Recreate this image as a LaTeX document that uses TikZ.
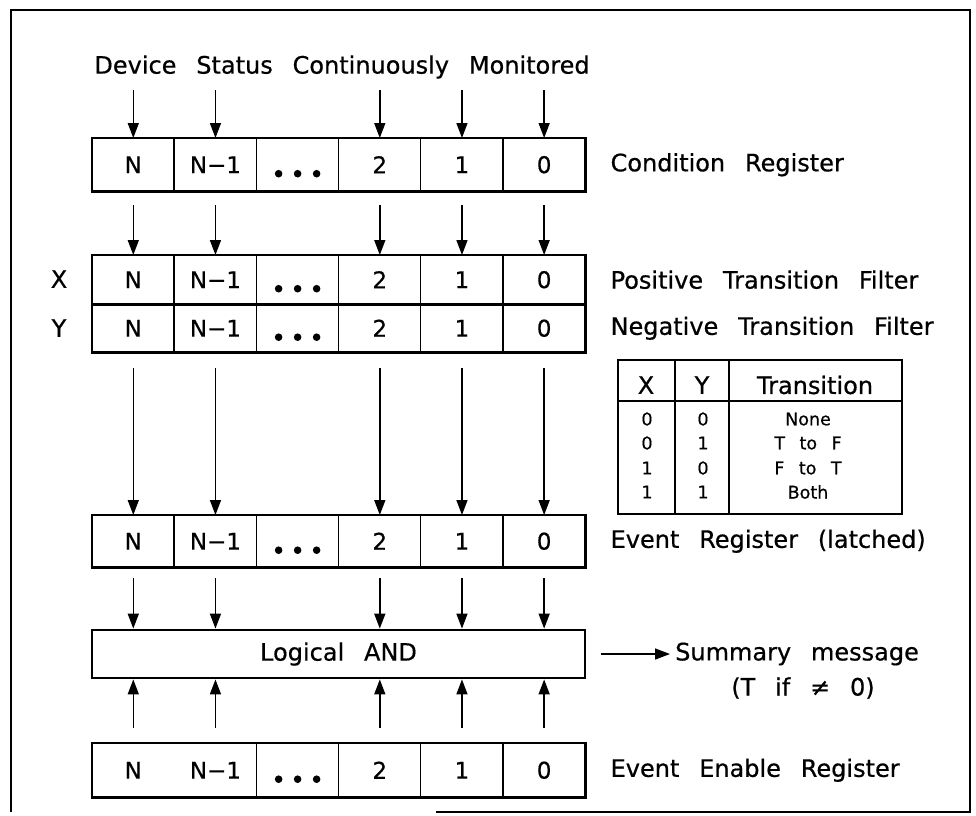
\documentclass[tikz,border=0pt]{standalone}
\usepackage{fontspec}
\setmainfont{DejaVu Sans}[WordSpace=2.6, FakeBold=0.6]
\usetikzlibrary{arrows.meta}
\tikzset{
  cellnode/.style={minimum width=82.17pt, minimum height=#1, inner sep=0pt, anchor=north west, font=\fontsize{23}{27}\selectfont},
  regbox/.style={draw, line width=2.8pt},
  divline/.style={line width=1.4pt},
  arr/.style={line width=1.5pt, -{Triangle[length=15pt,width=11pt]}},
  lab/.style={anchor=west, inner sep=0pt, font=\fontsize{24}{28}\selectfont},
  big/.style={inner sep=0pt, font=\fontsize{24}{28}\selectfont},
  small/.style={inner sep=0pt, font=\fontsize{17.5}{20}\selectfont},
  dotfill/.style={fill=black}
}
% #1 name, #2 top y, #3 height, #4 divider indices
\newcommand\myreg[4]{%
  \foreach \i/\t in {0/N,1/N−1,2/{},3/2,4/1,5/0} {
    \node[cellnode=#3pt] (#1\i) at ({92+\i*82.17},{#2}) {\t};
  }
  \foreach \i in {#4} {\draw[divline] (#1\i.north west) -- (#1\i.south west);}
  \draw[regbox] (#10.north west) rectangle (#15.south east);
  \fill[dotfill] ([xshift=-19pt,yshift=-9pt]#12.center) circle (3.8pt)
                 ([yshift=-9pt]#12.center) circle (3.8pt)
                 ([xshift=19pt,yshift=-9pt]#12.center) circle (3.8pt);
}
\begin{document}
\begin{tikzpicture}[x=1pt,y=-1pt]
\useasboundingbox (0,0) rectangle (976,815);
% frame
\draw[line width=2.4pt] (436,812) -- (970,812) -- (970,10) -- (11,10) -- (11,812);

% title
\node[big] (title) at (342,67) {Device Status Continuously Monitored};

% condition register
\myreg{cr}{138}{53}{1,2,3,4,5}
\node[lab] (crl) at ([xshift=25pt]cr5.east) {Condition Register};
\foreach \i in {0,1,3,4,5} {
  \coordinate (t\i) at ([yshift=48pt]cr\i.north);
  \draw[arr] (t\i) -- (cr\i.north);
}

% positive / negative transition filters
\myreg{px}{255}{49}{1,2,3,4,5}
\myreg{ny}{304}{48}{1,2,3,4,5}
\node[lab] (pxl) at ([xshift=25pt]px5.east) {Positive Transition Filter};
\node[lab] (nyl) at ([xshift=25pt]ny5.east) {Negative Transition Filter};
\node[big] (xl) at (59,279) {X};
\node[big] (yl) at (59,328) {Y};
\foreach \i in {0,1,3,4,5} {
  \draw[arr] ([yshift=-14pt]cr\i.south) -- (px\i.north);
}

% event register
\myreg{er}{515}{52}{1,2,3,4,5}
\node[lab] (erl) at ([xshift=25pt]er5.east) {Event Register (latched)};
\foreach \i in {0,1,3,4,5} {
  \draw[arr] ([yshift=-16pt]ny\i.south) -- (er\i.north);
}

% transition table
\draw[line width=2.4pt] (618,360) rectangle (902,514);
\draw[line width=2.4pt] (618,401) -- (902,401);
\draw[line width=1.6pt] (675,360) -- (675,514);
\draw[line width=1.6pt] (729,360) -- (729,514);
\node[big] (thx) at (646,385) {X};
\node[big] (thy) at (702,385) {Y};
\node[big] (tht) at (815,385) {Transition};
\foreach \r/\a/\b/\c [count=\k] in {419/0/0/None,443/0/1/T to F,468/1/0/F to T,492/1/1/Both} {
  \node[small] (ra\k) at (647,\r) {\a};
  \node[small] (rb\k) at (703,\r) {\b};
  \node[small] (rc\k) at (808,\r) {\c};
}

% logical AND
\node[draw, line width=2.8pt, minimum width=493pt, minimum height=48pt, inner sep=0pt,
      font=\fontsize{24}{28}\selectfont] (and) at (338.5,654) {Logical AND};
\foreach \i in {0,1,3,4,5} {
  \draw[arr] ([yshift=-11pt]er\i.south) -- (er\i.south |- and.north);
}
\node[lab] (sum) at (675,654) {Summary message};
\node[big] (sum2) at (803,688) {(T if ≠ 0)};
\draw[arr, shorten >=5pt] ([xshift=15pt]and.east) -- (sum.west);

% event enable register
\myreg{en}{743}{54}{2,3,4,5}
\node[lab] (enl) at ([xshift=25pt]en5.east) {Event Enable Register};
\foreach \i in {0,1,3,4,5} {
  \draw[arr] ([yshift=15pt]en\i.north) -- (en\i.north |- and.south);
}
\end{tikzpicture}
\end{document}
